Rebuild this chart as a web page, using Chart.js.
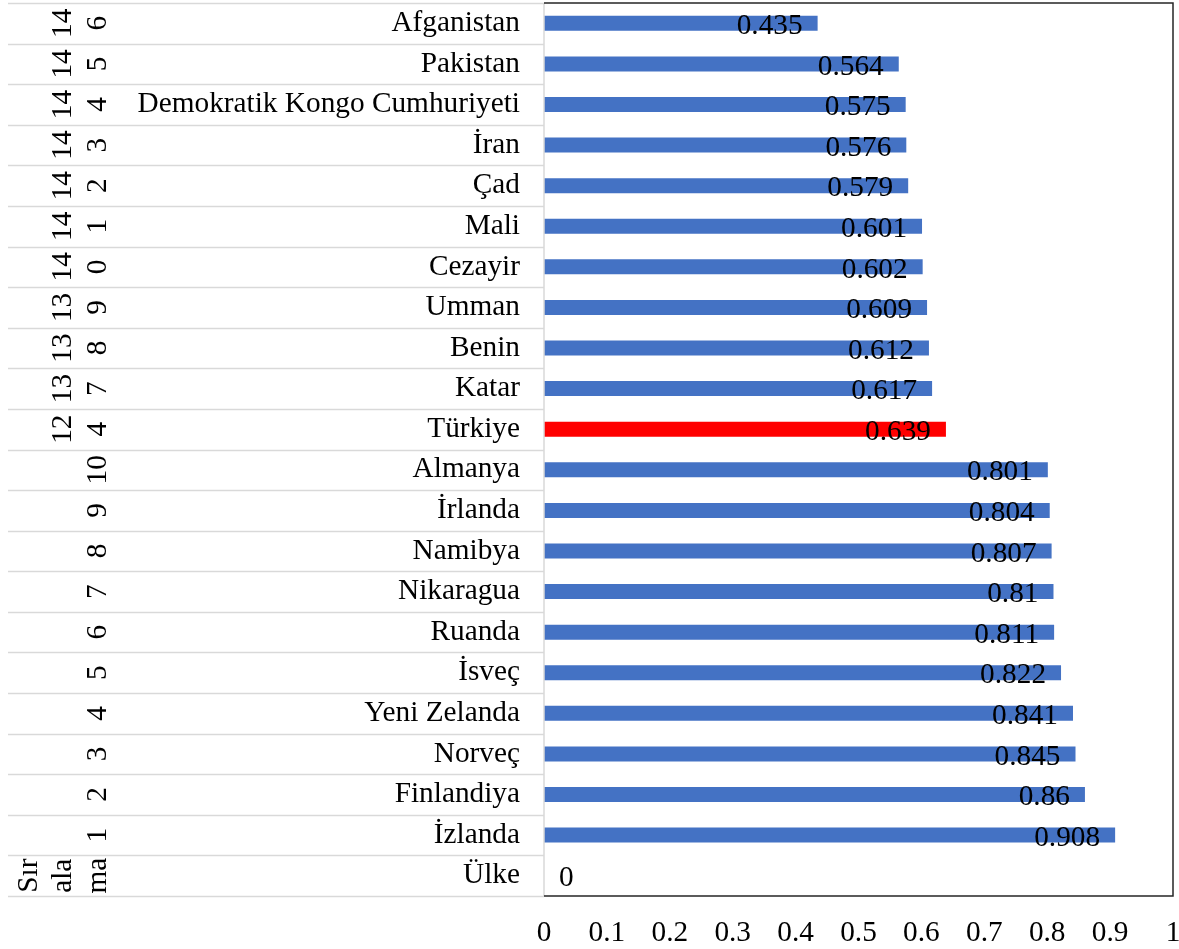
<!DOCTYPE html>
<html lang="tr">
<head>
<meta charset="UTF-8">
<title>Sıralama</title>
<script src="https://cdn.jsdelivr.net/npm/chart.js"></script>
<style>
  body { margin: 0; background: #fff; }
  #kutu { width: 1179px; height: 949px; }
</style>
</head>
<body>
<div id="kutu"><canvas id="grafik"></canvas></div>
<script>
// veriler
const ulkeler = ['Afganistan', 'Pakistan', 'Demokratik Kongo Cumhuriyeti', 'İran', 'Çad', 'Mali',
  'Cezayir', 'Umman', 'Benin', 'Katar', 'Türkiye', 'Almanya', 'İrlanda', 'Namibya', 'Nikaragua',
  'Ruanda', 'İsveç', 'Yeni Zelanda', 'Norveç', 'Finlandiya', 'İzlanda', 'Ülke'];
// sıralama etiketleri (satırlara bölünmüş hali)
const siralar = [['14', '6'], ['14', '5'], ['14', '4'], ['14', '3'], ['14', '2'], ['14', '1'], ['14', '0'],
  ['13', '9'], ['13', '8'], ['13', '7'], ['12', '4'], ['10'], ['9'], ['8'], ['7'], ['6'], ['5'],
  ['4'], ['3'], ['2'], ['1'], ['Sır', 'ala', 'ma']];
const degerler = [0.435, 0.564, 0.575, 0.576, 0.579, 0.601, 0.602, 0.609, 0.612, 0.617, 0.639,
  0.801, 0.804, 0.807, 0.81, 0.811, 0.822, 0.841, 0.845, 0.86, 0.908, 0];
const vurgu = 'Türkiye';
const eksenMin = 0, eksenMax = 1, eksenAdim = 0.1;

const yazi = '"Liberation Serif", "Times New Roman", serif';
const boyut = 29.3;

const renkler = ulkeler.map(u => u === vurgu ? '#FF0000' : '#4472C4');

function dolguSifirla(s) {
  s.paddingTop = 0; s.paddingBottom = 0; s.paddingLeft = 0; s.paddingRight = 0;
}

// sol tablo: çizgiler, sıralama yazıları ve çerçeve
const tabloEklentisi = {
  id: 'tablo',
  afterDraw(chart) {
    const ctx = chart.ctx;
    const alan = chart.chartArea;
    const y = chart.scales.y;
    const satir = (alan.bottom - alan.top) / ulkeler.length;
    ctx.save();
    // gri yatay çizgiler
    ctx.strokeStyle = '#D9D9D9';
    ctx.lineWidth = 1.5;
    for (let i = 0; i <= ulkeler.length; i++) {
      const yy = Math.round(alan.top + i * satir) + 0.5;
      ctx.beginPath();
      ctx.moveTo(8, yy);
      ctx.lineTo(alan.left, yy);
      ctx.stroke();
    }
    // sol dikey çizgi
    ctx.beginPath();
    ctx.moveTo(alan.left, alan.top);
    ctx.lineTo(alan.left, alan.bottom);
    ctx.stroke();
    // çerçeve (üst, sağ, alt)
    ctx.strokeStyle = '#262626';
    ctx.lineWidth = 1.5;
    ctx.beginPath();
    ctx.moveTo(alan.left, alan.top);
    ctx.lineTo(alan.right, alan.top);
    ctx.lineTo(alan.right, alan.bottom);
    ctx.lineTo(alan.left, alan.bottom);
    ctx.stroke();
    // döndürülmüş sıralama yazıları
    ctx.fillStyle = '#000';
    ctx.font = boyut + 'px ' + yazi;
    ctx.textAlign = 'center';
    ctx.textBaseline = 'middle';
    siralar.forEach((satirlar, i) => {
      const yy = y.getPixelForValue(i);
      const n = satirlar.length;
      satirlar.forEach((t, k) => {
        const xx = 96 - (n - 1 - k) * 34.5;
        ctx.save();
        ctx.translate(xx, yy);
        ctx.rotate(-Math.PI / 2);
        ctx.fillText(t, 0, 2);
        ctx.restore();
      });
    });
    // veri etiketleri
    const meta = chart.getDatasetMeta(0);
    meta.data.forEach((bar, i) => {
      const v = degerler[i];
      if (v > 0) {
        ctx.textAlign = 'right';
        ctx.fillText(String(v), bar.x - 15, bar.y + 3);
      } else {
        ctx.textAlign = 'left';
        ctx.fillText(String(v), bar.x + 15, bar.y + 3);
      }
    });
    ctx.restore();
  }
};

new Chart(document.getElementById('grafik'), {
  type: 'bar',
  data: {
    labels: ulkeler,
    datasets: [{
      data: degerler,
      backgroundColor: renkler,
      barPercentage: 0.37,
      categoryPercentage: 1
    }]
  },
  options: {
    indexAxis: 'y',
    responsive: true,
    maintainAspectRatio: false,
    animation: false,
    layout: { padding: { top: 3, right: 6, left: 0, bottom: 0 } },
    plugins: { legend: { display: false }, tooltip: { enabled: false } },
    scales: {
      x: {
        min: eksenMin,
        max: eksenMax,
        grid: { display: false, drawTicks: false },
        border: { display: false },
        ticks: {
          stepSize: eksenAdim,
          color: '#000',
          padding: 20,
          maxRotation: 0,
          font: { family: yazi, size: boyut },
          callback: v => String(Math.round(v * 10) / 10)
        },
        afterFit(s) { s.height = 53; dolguSifirla(s); }
      },
      y: {
        grid: { display: false, drawTicks: false },
        border: { display: false },
        ticks: {
          color: '#000',
          padding: 24,
          autoSkip: false,
          font: { family: yazi, size: boyut }
        },
        afterFit(s) { s.width = 544; dolguSifirla(s); }
      }
    }
  },
  plugins: [tabloEklentisi]
});
</script>
</body>
</html>
